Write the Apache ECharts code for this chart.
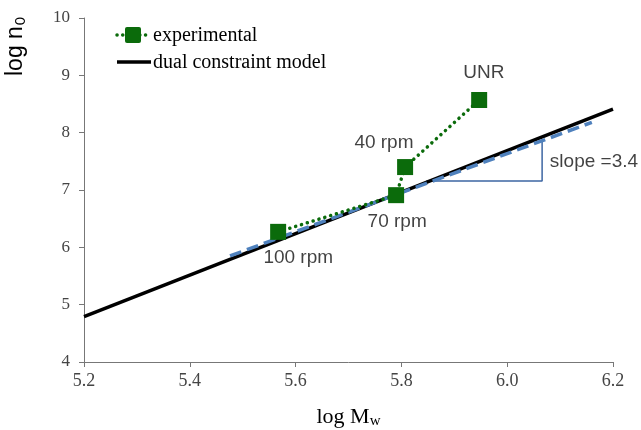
<!DOCTYPE html>
<html><head><meta charset="utf-8">
<script src="https://cdn.jsdelivr.net/npm/echarts@6/dist/echarts.min.js"></script>
<style>html,body{margin:0;padding:0;background:#fff}#c{width:641px;height:430px}</style>
</head><body><div id="c"></div>
<script>
// Experimental points (log Mw, log n0): 100 rpm, 70 rpm, 40 rpm, UNR
const expX = [5.567, 5.790, 5.807, 5.947];
const expY = [6.27, 6.91, 7.40, 8.57];
// Dual constraint model line
const modelX = [5.2, 6.2];
const modelY = [4.79, 8.41];
// Dashed fit with slope 3.4
const fitX = [5.476, 6.16];
const fitY = [5.85, 8.18];
// Slope triangle
const triX = [5.847, 6.066, 6.066];
const triY = [7.157, 7.157, 7.88];
// Annotations
const annText = ['UNR', '40 rpm', '70 rpm', '100 rpm', 'slope =3.4'];
const annX = [5.956, 5.767, 5.792, 5.605, 6.164];
const annY = [9.04, 7.82, 6.44, 5.81, 7.49];
// Axis ticks
const xTicks = [5.2, 5.4, 5.6, 5.8, 6.0, 6.2];
const yTicks = [4, 5, 6, 7, 8, 9, 10];
// Legend entries
const legendNames = ['experimental', 'dual constraint model'];

const zip = (a, b) => a.map((v, i) => [v, b[i]]);
const chart = echarts.init(document.getElementById('c'));
const serif = '"Liberation Serif", "Times New Roman", serif';
const sans = '"Liberation Sans", Arial, sans-serif';
const green = '#0b6b0b';
chart.setOption({
  animation: false,
  grid: {left: 84, right: 28, top: 18, bottom: 68, containLabel: false, outerBoundsMode: 'none'},
  xAxis: {
    type: 'value', min: 5.2, max: 6.2, interval: 0.2,
    axisLine: {lineStyle: {color: '#777'}},
    axisTick: {show: true, length: 5, lineStyle: {color: '#777'}},
    splitLine: {show: false},
    axisLabel: {fontFamily: serif, fontSize: 18, color: '#444', margin: 10,
      formatter: v => xTicks.some(t => Math.abs(t - v) < 1e-6) ? v.toFixed(1) : ''},
    name: 'log M{sub|w}', nameLocation: 'middle', nameGap: 43,
    nameTextStyle: {fontFamily: serif, fontSize: 22, color: '#000',
      rich: {sub: {fontFamily: serif, fontSize: 15, color: '#000', padding: [9, 0, 0, 0]}}}
  },
  yAxis: {
    type: 'value', min: 4, max: 10, interval: 1,
    axisLine: {show: true, lineStyle: {color: '#777'}},
    axisTick: {show: true, length: 5, lineStyle: {color: '#777'}},
    splitLine: {show: false},
    axisLabel: {fontFamily: serif, fontSize: 17, color: '#444', margin: 14,
      formatter: v => yTicks.includes(v) ? String(v) : ''}
  },
  graphic: [
    {
      type: 'text', x: 16, y: 76, rotation: Math.PI / 2,
      style: {text: 'log n{s|0}', fontFamily: sans, fontSize: 23, fill: '#000',
        align: 'left', verticalAlign: 'middle',
        rich: {s: {fontFamily: sans, fontSize: 15, fill: '#000', padding: [10, 0, 0, 1]}}}
    },
    {type: 'line', shape: {x1: 117, y1: 35, x2: 151, y2: 35},
      style: {stroke: green, lineWidth: 3.5, lineDash: [0.1, 5.6], lineCap: 'round'}},
    {type: 'rect', shape: {x: 125, y: 27, width: 16, height: 16, r: 2}, style: {fill: green}},
    {type: 'text', x: 153, y: 36, style: {text: legendNames[0], fontFamily: serif, fontSize: 20,
      fill: '#000', verticalAlign: 'middle'}},
    {type: 'line', shape: {x1: 117, y1: 62, x2: 151, y2: 62}, style: {stroke: '#000', lineWidth: 3.5}},
    {type: 'text', x: 153, y: 63, style: {text: legendNames[1], fontFamily: serif, fontSize: 20,
      fill: '#000', verticalAlign: 'middle'}}
  ],
  series: [
    {
      name: legendNames[1], type: 'line', data: zip(modelX, modelY),
      symbol: 'none', lineStyle: {color: '#000', width: 3.5}, z: 3
    },
    {
      name: 'fit', type: 'line', data: zip(fitX, fitY),
      symbol: 'none', lineStyle: {color: '#4f81bd', width: 3.5, type: [12, 6]}, z: 4
    },
    {
      name: 'triangle', type: 'line', data: zip(triX, triY),
      symbol: 'none', lineStyle: {color: '#3d66a3', width: 1.5}, z: 2
    },
    {
      name: legendNames[0], type: 'line', data: zip(expX, expY),
      symbol: 'rect', symbolSize: 16, itemStyle: {color: green, borderRadius: 2},
      lineStyle: {color: green, width: 3.5, type: [0.1, 6], cap: 'round'}, z: 5
    },
    {
      name: 'labels', type: 'scatter', data: zip(annX, annY).map((p, i) => ({value: p, name: annText[i]})),
      symbolSize: 0, silent: true,
      label: {show: true, position: 'inside', formatter: p => p.name,
        fontFamily: sans, fontSize: 19, color: '#111'}, z: 6
    }
  ]
});
</script></body></html>
